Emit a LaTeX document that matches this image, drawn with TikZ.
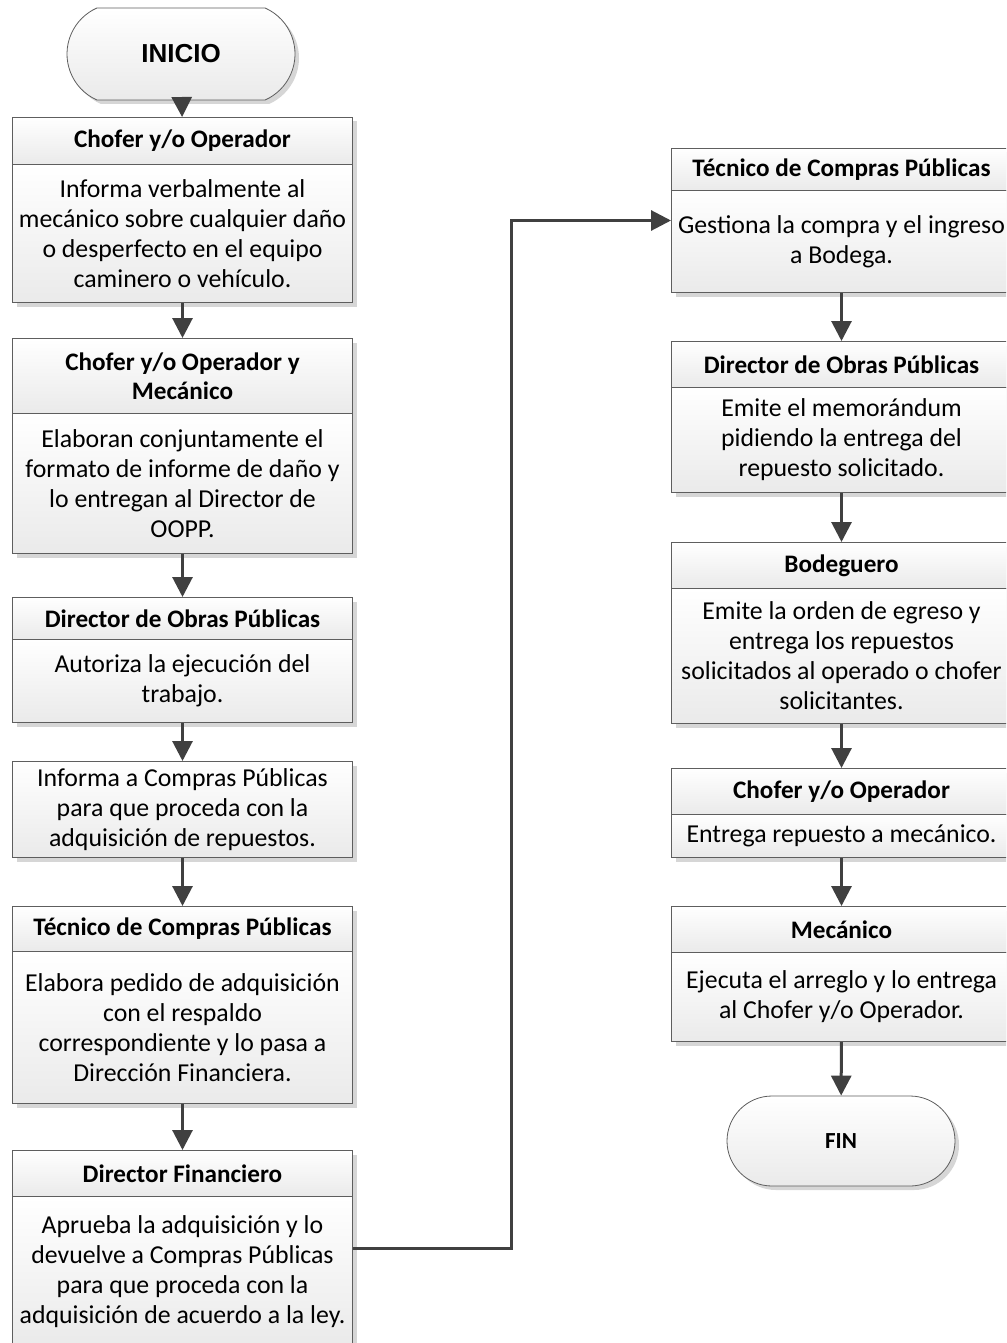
\documentclass[tikz,border=0pt]{standalone}
\usepackage{fontspec}
\setmainfont{Carlito}
\newfontfamily\arialfont{Liberation Sans}
\usetikzlibrary{arrows.meta,shadows,shapes.misc}

\definecolor{linec}{HTML}{5E5E5E}
\definecolor{arrowc}{HTML}{404040}
\definecolor{fillc}{HTML}{EAEAEA}
\definecolor{shadowc}{HTML}{D6D6D6}

\newcommand{\bdfont}{\fontsize{25.8}{30}\selectfont}
\newcommand{\hdfont}{\fontsize{25.2}{29}\selectfont\bfseries}

\tikzset{
  sect/.style={draw=linec, line width=1pt, top color=white, bottom color=fillc,
    minimum width=340pt, inner sep=0pt, align=center, anchor=north west,
    drop shadow={shadow xshift=4pt, shadow yshift=-4pt, fill=shadowc, opacity=1}},
  hd/.style={sect, font=\hdfont},
  bd/.style={sect, font=\bdfont},
  term/.style={rounded rectangle, draw=linec, line width=0.8pt, top color=white,
    bottom color=fillc, minimum width=228pt, inner sep=0pt,
    drop shadow={shadow xshift=4pt, shadow yshift=-4pt, fill=shadowc, opacity=1}},
  flow/.style={draw=arrowc, line width=3pt, -{Triangle[width=20pt,length=20pt]}},
}

\begin{document}
\begin{tikzpicture}[x=1pt, y=-1pt]
\useasboundingbox (0,0) rectangle (1006,1343);
\clip (0,0) rectangle (1006,1343);

% ---- start / end terminals
\node[term, rounded rectangle arc length=132, minimum height=92pt,
      font=\arialfont\fontsize{26}{30}\selectfont\bfseries] (ini) at (181,54) {INICIO};
\node[term, rounded rectangle arc length=180, minimum height=90pt,
      font=\fontsize{23}{28}\selectfont\bfseries] (fin) at (841,1141) {FIN};

% ---- left column
\node[hd, minimum height=47pt] (h1) at (12,117) {Chofer y/o Operador};
\node[bd, minimum height=138pt] (b1) at (12,164) {Informa verbalmente al\\mecánico sobre cualquier daño\\o desperfecto en el equipo\\caminero o vehículo.};

\node[hd, minimum height=75pt] (h2) at (12,338) {Chofer y/o Operador y\\Mecánico};
\node[bd, minimum height=140pt] (b2) at (12,413) {Elaboran conjuntamente el\\formato de informe de daño y\\lo entregan al Director de\\OOPP.};

\node[hd, minimum height=42pt] (h3) at (12,597) {Director de Obras Públicas};
\node[bd, minimum height=83pt] (b3) at (12,639) {Autoriza la ejecución del\\trabajo.};

\node[bd, minimum height=96pt] (b4) at (12,761) {Informa a Compras Públicas\\para que proceda con la\\adquisición de repuestos.};

\node[hd, minimum height=45pt] (h5) at (12,906) {Técnico de Compras Públicas};
\node[bd, minimum height=152pt] (b5) at (12,951) {Elabora pedido de adquisición\\con el respaldo\\correspondiente y lo pasa a\\Dirección Financiera.};

\node[hd, minimum height=46pt] (h6) at (12,1150) {Director Financiero};
\node[bd, minimum height=150pt] (b6) at (12,1196) {Aprueba la adquisición y lo\\devuelve a Compras Públicas\\para que proceda con la\\adquisición de acuerdo a la ley.};

% ---- right column
\node[hd, minimum height=42pt] (r1h) at (671,148) {Técnico de Compras Públicas};
\node[bd, minimum height=102pt] (r1b) at (671,190) {Gestiona la compra y el ingreso\\a Bodega.};

\node[hd, minimum height=46pt] (r2h) at (671,341) {Director de Obras Públicas};
\node[bd, minimum height=105pt] (r2b) at (671,387) {Emite el memorándum\\pidiendo la entrega del\\repuesto solicitado.};

\node[hd, minimum height=46pt] (r3h) at (671,542) {Bodeguero};
\node[bd, minimum height=135pt] (r3b) at (671,588) {Emite la orden de egreso y\\entrega los repuestos\\solicitados al operado o chofer\\solicitantes.};

\node[hd, minimum height=46pt] (r4h) at (671,768) {Chofer y/o Operador};
\node[bd, minimum height=43pt] (r4b) at (671,814) {Entrega repuesto a mecánico.};

\node[hd, minimum height=46pt] (r5h) at (671,906) {Mecánico};
\node[bd, minimum height=89pt] (r5b) at (671,952) {Ejecuta el arreglo y lo entrega\\al Chofer y/o Operador.};

% ---- connectors
\draw[flow] (ini) -- (h1);
\draw[flow] (b1) -- (h2);
\draw[flow] (b2) -- (h3);
\draw[flow] (b3) -- (b4);
\draw[flow] (b4) -- (h5);
\draw[flow] (b5) -- (h6);
\draw[flow] ([yshift=23pt]b6.east) -- ++(158pt,0) |- ([yshift=21pt]r1b.west);
\draw[flow] (r1b) -- (r2h);
\draw[flow] (r2b) -- (r3h);
\draw[flow] (r3b) -- (r4h);
\draw[flow] (r4b) -- (r5h);
\draw[flow] (r5b) -- (fin);
\end{tikzpicture}
\end{document}
